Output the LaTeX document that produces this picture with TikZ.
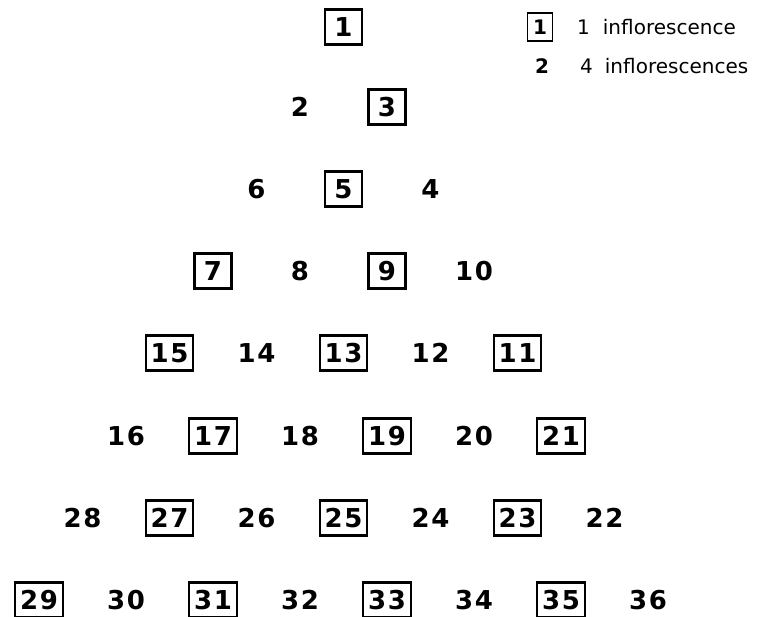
\documentclass[tikz,border=0pt]{standalone}
\usepackage{fontspec}
\setmainfont{DejaVu Sans}
\newfontfamily\numfont[LetterSpace=6]{DejaVu Sans}
\tikzset{
  num/.style={font=\numfont\bfseries\fontsize{26}{26}\selectfont, inner sep=0pt, text height=19pt, text depth=0pt},
  boxed/.style={num, draw, line width=2.1pt, minimum width=37pt, minimum height=35pt, inner xsep=5pt},
  legtext/.style={font=\fontsize{20}{20}\selectfont, anchor=west, inner sep=0pt},
}
\begin{document}
\begin{tikzpicture}[x=1pt,y=-1pt]
\useasboundingbox (0,0) rectangle (759,617);
% boxed (odd) numbers: j / number / row-y
\foreach \j/\n/\yy in {7/1/27, 8/3/107, 7/5/189, 4/7/271, 8/9/271,
  3/15/353, 7/13/353, 11/11/353, 4/17/436, 8/19/436, 12/21/436,
  3/27/518, 7/25/518, 11/23/518, 0/29/600, 4/31/600, 8/33/600, 12/35/600}
  \node[boxed] (n\n) at ({39+43.5*\j},\yy) {\n};
% plain (even) numbers
\foreach \j/\n/\yy in {6/2/107, 5/6/189, 9/4/189, 6/8/271, 10/10/271,
  5/14/353, 9/12/353, 2/16/436, 6/18/436, 10/20/436,
  1/28/518, 5/26/518, 9/24/518, 13/22/518,
  2/30/600, 6/32/600, 10/34/600, 14/36/600}
  \node[num] (n\n) at ({39+43.5*\j},\yy) {\n};
% legend
\node[draw, line width=1.8pt, minimum width=25pt, minimum height=28pt, inner sep=0pt,
  font=\bfseries\fontsize{20}{20}\selectfont] (legbox) at (540,27) {1};
\node[legtext] (legA) at (577,27) {1\hspace{13pt}inflorescence};
\node[font=\bfseries\fontsize{20}{20}\selectfont, inner sep=0pt] (legtwo) at (542,66) {2};
\node[legtext] (legB) at (580,66) {4\hspace{12pt}inflorescences};
\end{tikzpicture}
\end{document}
